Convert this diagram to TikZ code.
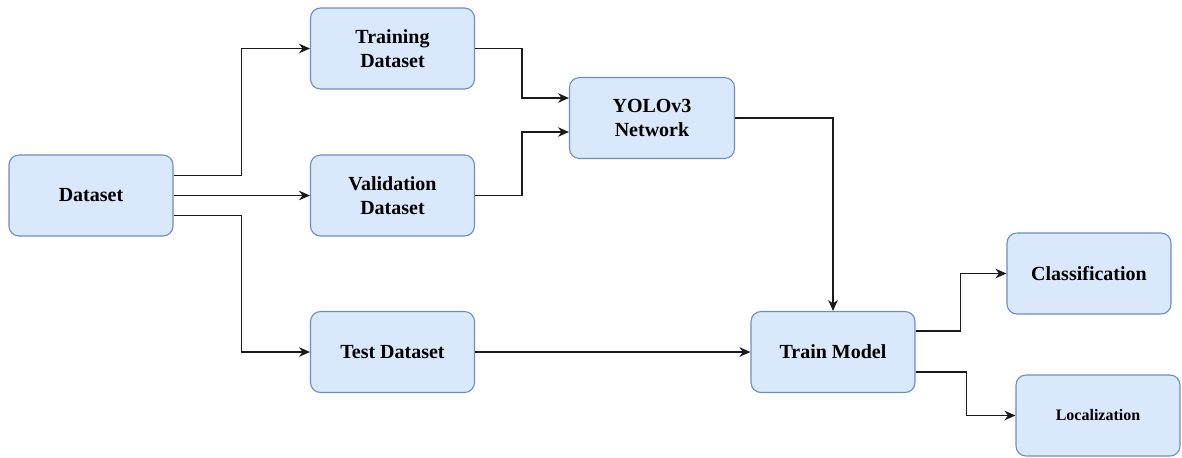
\documentclass[tikz,border=0pt]{standalone}
\usepackage{fontspec}
\setmainfont{Liberation Serif}
\usetikzlibrary{arrows.meta,calc}
\definecolor{boxfill}{HTML}{DAE8FC}
\definecolor{boxline}{HTML}{6C8EBF}
\definecolor{wire}{HTML}{1A1A1A}
\tikzset{
  box/.style={draw=boxline, fill=boxfill, line width=0.55pt, rounded corners=5pt,
    minimum width=82pt, minimum height=40.5pt, align=center, inner sep=0pt,
    font=\bfseries\fontsize{10}{12}\selectfont},
  arr/.style={draw=wire, line width=0.65pt, -{Stealth[length=5.5pt,width=4.8pt]}}
}
\begin{document}
\begin{tikzpicture}[x=0.5pt,y=-0.5pt]
\useasboundingbox (0,0) rectangle (1182,457);
\node[box] (ds) at (91,195.5) {Dataset};
\node[box] (tr) at (392.5,48.5) {Training\\Dataset};
\node[box] (va) at (392.5,195.5) {Validation\\Dataset};
\node[box] (te) at (392.5,352) {Test Dataset};
\node[box, minimum width=82.5pt] (yo) at (652,118) {YOLOv3\\Network};
\node[box] (tm) at (833,352) {Train Model};
\node[box] (cl) at (1089,273.5) {Classification};
\node[box, font=\bfseries\fontsize{8}{10}\selectfont] (lo) at (1098,415.5) {Localization};

\draw[arr] ($(ds.east)+(0,-20)$) -- ++(68,0) |- (tr.west);
\draw[arr] (ds.east) -- (va.west);
\draw[arr] ($(ds.east)+(0,20)$) -- ++(68,0) |- (te.west);
\draw[arr] (tr.east) -- ++(47,0) |- ($(yo.west)+(0,-20)$);
\draw[arr] (va.east) -- ++(47,0) |- ($(yo.west)+(0,14)$);
\draw[arr] (yo.east) -| (tm.north);
\draw[arr] (te.east) -- (tm.west);
\draw[arr] ($(tm.east)+(0,-21)$) -- ++(45,0) |- (cl.west);
\draw[arr] ($(tm.east)+(0,20)$) -- ++(51,0) |- (lo.west);
\end{tikzpicture}
\end{document}
